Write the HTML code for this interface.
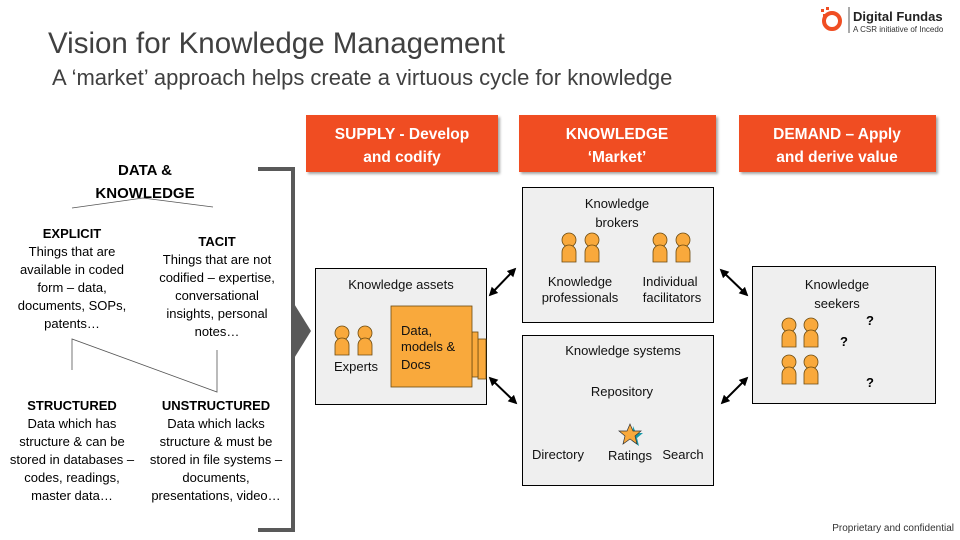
<!DOCTYPE html>
<html><head><meta charset="utf-8"><style>
body{margin:0;background:#fff}
svg{display:block;font-family:"Liberation Sans",sans-serif}
</style></head><body>
<svg width="960" height="540" viewBox="0 0 960 540" xmlns="http://www.w3.org/2000/svg">
<defs>
<g id="p"><circle cx="0" cy="0" r="7" fill="#F9A93C" stroke="#6b4a10" stroke-width="0.8"/><path d="M-7 22V12A7 7 0 0 1 7 12V22Z" fill="#F9A93C" stroke="#6b4a10" stroke-width="0.8"/></g>
<marker id="a" viewBox="0 0 10 10" refX="8" refY="5" markerWidth="4.5" markerHeight="4.5" orient="auto-start-reverse"><path d="M0 0L10 5L0 10Z" fill="#000"/></marker>
<filter id="s" x="-5%" y="-5%" width="115%" height="120%"><feDropShadow dx="2" dy="2" stdDeviation="1.2" flood-color="#000" flood-opacity="0.35"/></filter>
</defs>
<text x="48" y="53" font-size="29.5" fill="#404040">Vision for Knowledge Management</text>
<text x="52" y="85" font-size="22" fill="#404040">A ‘market’ approach helps create a virtuous cycle for knowledge</text>
<!-- logo -->
<circle cx="832" cy="21" r="8" fill="none" stroke="#F04E23" stroke-width="4"/>
<rect x="821" y="9" width="3" height="3" fill="#F04E23"/><rect x="826" y="7" width="3" height="3" fill="#F04E23"/><rect x="823" y="14" width="3" height="3" fill="#F04E23"/>
<line x1="849" y1="7" x2="849" y2="33" stroke="#555" stroke-width="1"/>
<text x="853" y="21" font-size="13" font-weight="bold" fill="#222">Digital Fundas</text>
<text x="853" y="32" font-size="8" fill="#333">A CSR initiative of Incedo</text>
<!-- headers -->
<g filter="url(#s)" fill="#F04E23">
<rect x="306" y="115" width="192" height="57"/><rect x="519" y="115" width="197" height="57"/><rect x="739" y="115" width="197" height="57"/>
</g>
<g fill="#fff" font-size="15.5" font-weight="bold" text-anchor="middle">
<text x="402" y="139">SUPPLY - Develop</text><text x="402" y="162">and codify</text>
<text x="617" y="139">KNOWLEDGE</text><text x="617" y="162">‘Market’</text>
<text x="837" y="139">DEMAND – Apply</text><text x="837" y="162">and derive value</text>
</g>
<!-- left -->
<g font-size="13" fill="#000" text-anchor="middle">
<text x="145" y="175" font-size="15" font-weight="bold">DATA &amp;</text>
<text x="145" y="198" font-size="15" font-weight="bold">KNOWLEDGE</text>
<text x="72" y="238" font-weight="bold">EXPLICIT</text>
<text x="72" y="256">Things that are</text><text x="72" y="274">available in coded</text><text x="72" y="292">form – data,</text><text x="72" y="310">documents, SOPs,</text><text x="72" y="328">patents…</text>
<text x="217" y="246" font-weight="bold">TACIT</text>
<text x="217" y="264">Things that are not</text><text x="217" y="282">codified – expertise,</text><text x="217" y="300">conversational</text><text x="217" y="318">insights, personal</text><text x="217" y="336">notes…</text>
<text x="72" y="410" font-weight="bold">STRUCTURED</text>
<text x="72" y="428">Data which has</text><text x="72" y="446">structure &amp; can be</text><text x="72" y="464">stored in databases –</text><text x="72" y="482">codes, readings,</text><text x="72" y="500">master data…</text>
<text x="216" y="410" font-weight="bold">UNSTRUCTURED</text>
<text x="216" y="428">Data which lacks</text><text x="216" y="446">structure &amp; must be</text><text x="216" y="464">stored in file systems –</text><text x="216" y="482">documents,</text><text x="216" y="500">presentations, video…</text>
</g>
<g stroke="#555" stroke-width="0.8" fill="none">
<path d="M72 208L143 198L213 207"/>
<path d="M72 370V339L217 392V350"/>
</g>
<path d="M258 169H293V530H258" fill="none" stroke="#595959" stroke-width="4"/>
<path d="M293 302L311 331L293 360Z" fill="#595959"/>
<!-- boxes -->
<g fill="#efefef" stroke="#000" stroke-width="1">
<rect x="315.5" y="268.5" width="171" height="136"/>
<rect x="522.5" y="187.5" width="191" height="135"/>
<rect x="522.5" y="335.5" width="191" height="150"/>
<rect x="752.5" y="266.5" width="183" height="137"/>
</g>
<g fill="#F9A93C" stroke="#6b4a10" stroke-width="0.8">
<rect x="478" y="339" width="8" height="40"/>
<rect x="472" y="332" width="6" height="45"/>
<rect x="391" y="306" width="81" height="81"/>
</g>
<g font-size="13" fill="#111" text-anchor="middle">
<text x="401" y="289">Knowledge assets</text>
<text x="356" y="371">Experts</text>
<text x="401" y="335" text-anchor="start">Data,</text><text x="401" y="351" text-anchor="start">models &amp;</text><text x="401" y="369" text-anchor="start">Docs</text>
<text x="617" y="208">Knowledge</text><text x="617" y="227">brokers</text>
<text x="580" y="286">Knowledge</text><text x="580" y="302">professionals</text>
<text x="670" y="286">Individual</text><text x="672" y="302">facilitators</text>
<text x="623" y="355">Knowledge systems</text>
<text x="622" y="396">Repository</text>
<text x="558" y="459">Directory</text><text x="630" y="460">Ratings</text><text x="683" y="459">Search</text>
<text x="837" y="289">Knowledge</text><text x="837" y="308">seekers</text>
</g>
<g font-size="13" font-weight="bold" fill="#000">
<text x="866" y="325">?</text><text x="840" y="346">?</text><text x="866" y="387">?</text>
</g>
<use href="#p" x="342" y="333"/><use href="#p" x="365" y="333"/>
<use href="#p" x="569" y="240"/><use href="#p" x="592" y="240"/>
<use href="#p" x="660" y="240"/><use href="#p" x="683" y="240"/>
<use href="#p" x="789" y="325"/><use href="#p" x="811" y="325"/>
<use href="#p" x="789" y="362"/><use href="#p" x="811" y="362"/>
<path d="M633 426L636 433L643 433L637 438L639 446L632 441Z" fill="#1a9aa8"/>
<path d="M630 424L633 431L641 431L635 436L637 444L630 439L623 444L625 436L619 431L627 431Z" fill="#F9A93C" stroke="#333" stroke-width="0.7"/>
<g stroke="#000" stroke-width="2" marker-start="url(#a)" marker-end="url(#a)">
<line x1="490" y1="295" x2="515" y2="269"/>
<line x1="490" y1="378" x2="516" y2="403"/>
<line x1="721" y1="270" x2="747" y2="295"/>
<line x1="722" y1="403" x2="747" y2="378"/>
</g>
<text x="954" y="531" font-size="10" fill="#333" text-anchor="end">Proprietary and confidential</text>
</svg>
</body></html>
